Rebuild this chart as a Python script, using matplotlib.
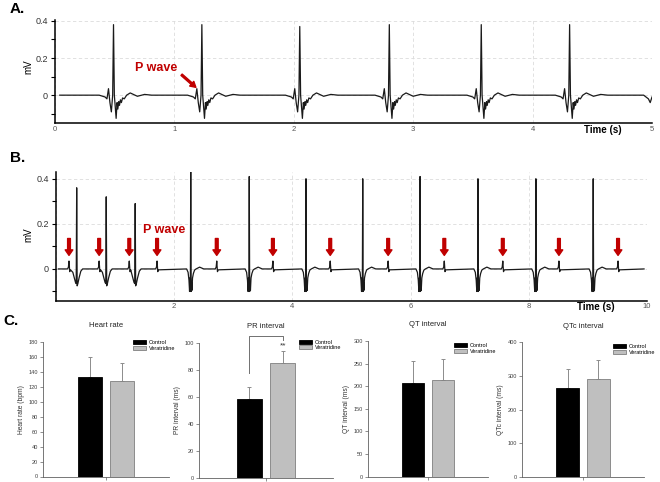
import matplotlib
matplotlib.use('Agg')
import matplotlib.pyplot as plt
from matplotlib.ticker import MultipleLocator
import matplotlib.transforms as mtrans

plt.rcParams['font.family'] = ['Liberation Sans', 'DejaVu Sans']

W, H = 660, 482

# ---- panel A: control ECG (5 s) ----
a_r_times = [0.49, 1.23, 2.05, 2.80, 3.57, 4.31]
a_r_peaks = [0.38, 0.38, 0.37, 0.38, 0.38, 0.38]
# shape of one complex around the R peak (offset in s, mV), R itself left out
a_qrs_dt = [-0.12, -0.07, -0.055, -0.042, -0.03, -0.018, -0.007,
            0.007, 0.022, 0.03, 0.036, 0.044, 0.05, 0.058, 0.066, 0.076,
            0.09, 0.11, 0.14, 0.2, 0.26, 0.32]
a_qrs_mv = [0.0, -0.01, -0.02, 0.035, -0.04, -0.09, 0.0,
            0.0, -0.125, -0.04, -0.075, -0.035, -0.055, -0.025, -0.04, -0.015,
            -0.02, 0.0, 0.012, -0.006, 0.004, 0.0]
a_start = 0.04
a_tail_t = [4.93, 4.97, 4.985, 5.0]
a_tail_mv = [0.0, -0.02, -0.04, -0.01]
a_arrow_tail = (1.06, 0.11)
a_arrow_head = (1.18, 0.042)

# ---- panel B: veratridine ECG (10 s) ----
b_r_early = [0.35, 0.85, 1.34]
b_peaks_early = [0.36, 0.32, 0.29]
b_r_late = [2.28, 3.27, 4.23, 5.19, 6.16, 7.14, 8.12, 9.09]
b_peaks_late = [0.43, 0.41, 0.40, 0.40, 0.41, 0.40, 0.40, 0.40]
b_p_times = [0.22, 0.73, 1.24, 1.71, 2.72, 3.67, 4.64, 5.62, 6.57, 7.56, 8.51, 9.51]
b_p_dt = [-0.025, -0.01, 0.0, 0.012, 0.025]
b_p_mv = [0.0, 0.008, 0.035, -0.012, -0.004]
b_early_dt = [-0.065, -0.04, -0.02, -0.008, 0.008, 0.02, 0.04, 0.07, 0.1]
b_early_mv = [-0.015, -0.04, -0.06, -0.065, -0.075, -0.065, -0.04, -0.01, 0.0]
b_late_dt = [-0.07, -0.045, -0.03, -0.02, -0.014, -0.007, 0.007, 0.013,
             0.02, 0.03, 0.045, 0.065, 0.09, 0.15, 0.22]
b_late_mv = [0.0, -0.015, -0.05, -0.1, -0.04, -0.1, -0.1, -0.06,
             -0.095, -0.04, -0.02, -0.005, 0.0, 0.008, 0.0]
b_start, b_end = 0.04, 9.95
b_arrow_top, b_arrow_tip = 0.135, 0.06

# ---- panel C: bar charts ----
groups = ['Control', 'Veratridine']
titles = ['Heart rate', 'PR interval', 'QT interval', 'QTc interval']
ylabels = ['Heart rate (bpm)', 'PR interval (ms)', 'QT interval (ms)', 'QTc interval (ms)']
hr_mean, hr_err = [133, 128], [27, 23]
pr_mean, pr_err = [58.5, 85], [9, 9]
qt_mean, qt_err = [207, 213], [49, 47]
qtc_mean, qtc_err = [265, 290], [56, 57]
y_max = [180, 100, 300, 400]
y_step = [20, 20, 50, 100]
pr_bracket_mv = [78, 105, 105, 102]


def add_events(pts, times, dts, mvs):
    for t in times:
        for d, v in zip(dts, mvs):
            pts.append((t + d, v))


def ecg_axes(rect, xmax):
    ax = fig.add_axes(rect)
    ax.set_xlim(0, xmax)
    for s in ['top', 'right']:
        ax.spines[s].set_visible(False)
    for s in ['left', 'bottom']:
        ax.spines[s].set_linewidth(1.1)
    ax.set_yticks([0, 0.2, 0.4])
    ax.set_yticklabels(['0', '0.2', '0.4'])
    ax.yaxis.set_minor_locator(MultipleLocator(0.1))
    ax.tick_params(axis='y', which='both', length=3, width=0.8,
                   labelsize=6.5, labelcolor='#333333', pad=2)
    ax.tick_params(axis='x', length=0, labelsize=5.5, labelcolor='#555555', pad=2)
    ax.grid(True, which='major', color='#dcdcdc', ls=(0, (4, 3)), lw=0.6)
    ax.set_axisbelow(True)
    return ax


fig = plt.figure(figsize=(W / 100, H / 100), dpi=100)

# A
axA = ecg_axes([55 / W, 1 - 123 / H, 597 / W, 103 / H], 5)
axA.set_ylim(-0.15, 0.405)
axA.set_xticks(range(6))
pts = [(a_start, 0.0)]
add_events(pts, a_r_times, a_qrs_dt, a_qrs_mv)
pts += list(zip(a_r_times, a_r_peaks))
pts += list(zip(a_tail_t, a_tail_mv))
pts.sort()
axA.plot([p[0] for p in pts], [p[1] for p in pts], color='#1a1a1a', lw=0.9)
axA.annotate('', xy=a_arrow_head, xytext=a_arrow_tail,
             arrowprops=dict(facecolor='#c00000', edgecolor='#c00000',
                             width=1.3, headwidth=4.5, headlength=4, shrink=0))
axA.text(0.67, 0.146, 'P wave', color='#c00000', fontsize=9,
         fontweight='bold', ha='left', va='center')
trA = mtrans.blended_transform_factory(axA.transData, axA.transAxes)
axA.text(4.43, -0.07, 'Time (s)', transform=trA, fontsize=7,
         fontweight='bold', ha='left', va='center')

# B
axB = ecg_axes([56 / W, 1 - 300.5 / H, 591 / W, 128.5 / H], 10)
axB.set_ylim(-0.14, 0.43)
axB.set_xticks([0, 2, 4, 6, 8, 10])
axB.set_xticklabels(['', '2', '4', '6', '8', '10'])
pts = [(b_start, 0.0), (b_end, 0.0)]
add_events(pts, b_p_times, b_p_dt, b_p_mv)
add_events(pts, b_r_early, b_early_dt, b_early_mv)
add_events(pts, b_r_late, b_late_dt, b_late_mv)
pts += list(zip(b_r_early, b_peaks_early))
pts += list(zip(b_r_late, b_peaks_late))
pts.sort()
axB.plot([p[0] for p in pts], [p[1] for p in pts], color='#1a1a1a', lw=0.9)
for t in b_p_times:
    axB.annotate('', xy=(t, b_arrow_tip), xytext=(t, b_arrow_top),
                 arrowprops=dict(facecolor='#c00000', edgecolor='#c00000',
                                 width=2.0, headwidth=5.5, headlength=4, shrink=0))
axB.text(1.47, 0.173, 'P wave', color='#c00000', fontsize=9,
         fontweight='bold', ha='left', va='center')
trB = mtrans.blended_transform_factory(axB.transData, axB.transAxes)
axB.text(8.82, -0.05, 'Time (s)', transform=trB, fontsize=7,
         fontweight='bold', ha='left', va='center')

fig.text(28 / W, 1 - 67 / H, 'mV', rotation=90, fontsize=7, ha='center', va='center')
fig.text(28 / W, 1 - 235 / H, 'mV', rotation=90, fontsize=7, ha='center', va='center')

fig.text(10 / W, 1 - 9 / H, 'A.', fontsize=11, fontweight='bold', va='center')
fig.text(10 / W, 1 - 158 / H, 'B.', fontsize=11, fontweight='bold', va='center')
fig.text(3 / W, 1 - 321 / H, 'C.', fontsize=11, fontweight='bold', va='center')

# C
boxes = [(43, 169, 476.5, 341.7), (199, 333, 478, 343),
         (368, 488, 476.7, 341), (522, 644, 476.7, 342.3)]
legend_at = [(0.714, 0.985), (0.746, 1.0), (0.717, 0.96), (0.746, 0.963)]
means = [hr_mean, pr_mean, qt_mean, qtc_mean]
errs = [hr_err, pr_err, qt_err, qtc_err]

for i in range(4):
    l, r, b, t = boxes[i]
    ax = fig.add_axes([l / W, 1 - b / H, (r - l) / W, (b - t) / H])
    bars = ax.bar([0, 1], means[i], width=0.75, color=['#000000', '#bfbfbf'],
                  edgecolor=['#000000', '#7f7f7f'], linewidth=0.6, zorder=2)
    ax.errorbar([0, 1], means[i], yerr=[[0, 0], errs[i]], fmt='none',
                ecolor='#8c8c8c', elinewidth=0.7, capsize=1.5, capthick=0.7, zorder=1)
    ax.set_xlim(-1.5, 2.5)
    ax.set_ylim(0, y_max[i])
    ax.set_yticks(range(0, y_max[i] + 1, y_step[i]))
    ax.set_xticks([0.5])
    ax.set_xticklabels([''])
    for s in ['top', 'right']:
        ax.spines[s].set_visible(False)
    for s in ['left', 'bottom']:
        ax.spines[s].set_linewidth(0.6)
        ax.spines[s].set_color('#606060')
    ax.tick_params(length=2, width=0.5, color='#606060', labelsize=4,
                   labelcolor='#404040', pad=1.5)
    ax.set_ylabel(ylabels[i], fontsize=4.8, color='#333333')
    ax.yaxis.set_label_coords(-18 / (r - l), 0.5)
    ax.text(0.5, 1 + 16 / (b - t), titles[i], transform=ax.transAxes,
            fontsize=5.5, color='#222222', ha='center', va='center')
    lx, ly = legend_at[i]
    ax.legend(bars, groups, loc='upper left',
              bbox_to_anchor=(lx, ly + 3.5 / (b - t)), frameon=False,
              fontsize=4, handlelength=2.3, handleheight=0.7, handletextpad=0.5,
              labelspacing=0.15, borderpad=0, borderaxespad=0)
    if i == 1:
        ax.plot([0, 0, 1, 1], pr_bracket_mv, color='#707070', lw=0.7, clip_on=False)
        ax.text(1, 98, '**', fontsize=6, color='#333333', ha='center', va='center')

fig.savefig('out.png', dpi=100)
